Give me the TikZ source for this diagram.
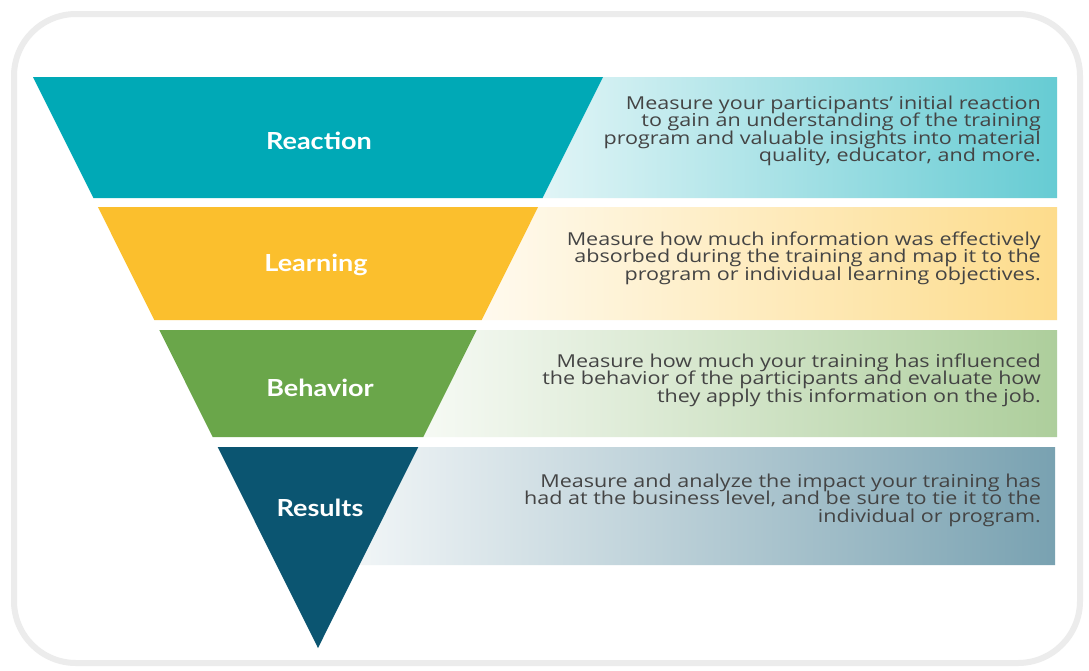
\documentclass[tikz,border=0pt]{standalone}
\usepackage{fontspec}
\setmainfont{Open Sans}
\newfontfamily\infofamily{Open Sans}[FakeStretch=1.21]
\newfontfamily\stagefont{Lato}[FakeStretch=1.15]
\usetikzlibrary{positioning}

\definecolor{reactcol}{HTML}{00A9B6}
\definecolor{learncol}{HTML}{FBBF2D}
\definecolor{behavcol}{HTML}{6AA64A}
\definecolor{resultcol}{HTML}{0B5571}
\definecolor{infotext}{HTML}{444444}
\definecolor{framecol}{HTML}{ECECEC}

% wide, tightly leaded description text
\newcommand\infofont{\infofamily\fontsize{17.8}{17.4}\selectfont\lineskiplimit=-20pt\relax}

\tikzset{
  frame/.style={draw=framecol, line width=6pt, rounded corners=62pt},
  stage/.style={text=white, font=\stagefont\bfseries\fontsize{23.5}{26}\selectfont},
  info/.style={anchor=east, align=right, text=infotext, inner sep=0pt,
    font=\infofont},
}

\begin{document}
\begin{tikzpicture}[x=1pt,y=-1pt]
    \useasboundingbox (0,0) rectangle (1089,670);
    \fill[white] (0,0) rectangle (1089,670);
    \draw[frame] (14,14) rectangle (1080,663);

    % gradient panels behind the funnel
    \shade[left color=reactcol!12, right color=reactcol!60]
      (603,77) -- (1057,77) -- (1057,198) -- (542.6,198) -- cycle;
    \shade[left color=learncol!8, right color=learncol!55]
      (538.1,207) -- (1057,207) -- (1057,320) -- (481.7,320) -- cycle;
    \shade[left color=behavcol!6, right color=behavcol!55]
      (476.7,330) -- (1057,330) -- (1057,437) -- (423.3,437) -- cycle;
    \shade[left color=resultcol!6, right color=resultcol!55]
      (418.3,447) -- (1055,447) -- (1055,565) -- (359.4,565) -- cycle;

    % funnel bands
    \fill[reactcol] (33,77) -- (603,77) -- (542.6,198) -- (93.4,198) -- cycle;
    \fill[learncol] (97.9,207) -- (538.1,207) -- (481.7,320) -- (154.3,320) -- cycle;
    \fill[behavcol] (159.3,330) -- (476.7,330) -- (423.3,437) -- (212.7,437) -- cycle;
    \fill[resultcol] (217.7,447) -- (418.3,447) -- (318,648) -- cycle;

    % stage names
    \node[stage] (reaction) at (319,141) {Reaction};
    \node[stage] (learning) at (316,265) {Learning};
    \node[stage] (behavior) at (320,388) {Behavior};
    \node[stage] (results)  at (320,508) {Results};

    % descriptions
    \node[info] (reactioninfo) at (1041,131)
      {Measure your participants’ initial reaction\\
       to gain an understanding of the training\\
       program and valuable insights into material\\
       quality, educator, and more.};
    \node[info] (learninginfo) at (1041,258)
      {Measure how much information was effectively\\
       absorbed during the training and map it to the\\
       program or individual learning objectives.};
    \node[info] (behaviorinfo) at (1041,380)
      {Measure how much your training has influenced\\
       the behavior of the participants and evaluate how\\
       they apply this information on the job.};
    \node[info] (resultsinfo) at (1041,500)
      {Measure and analyze the impact your training has\\
       had at the business level, and be sure to tie it to the\\
       individual or program.};
\end{tikzpicture}
\end{document}
